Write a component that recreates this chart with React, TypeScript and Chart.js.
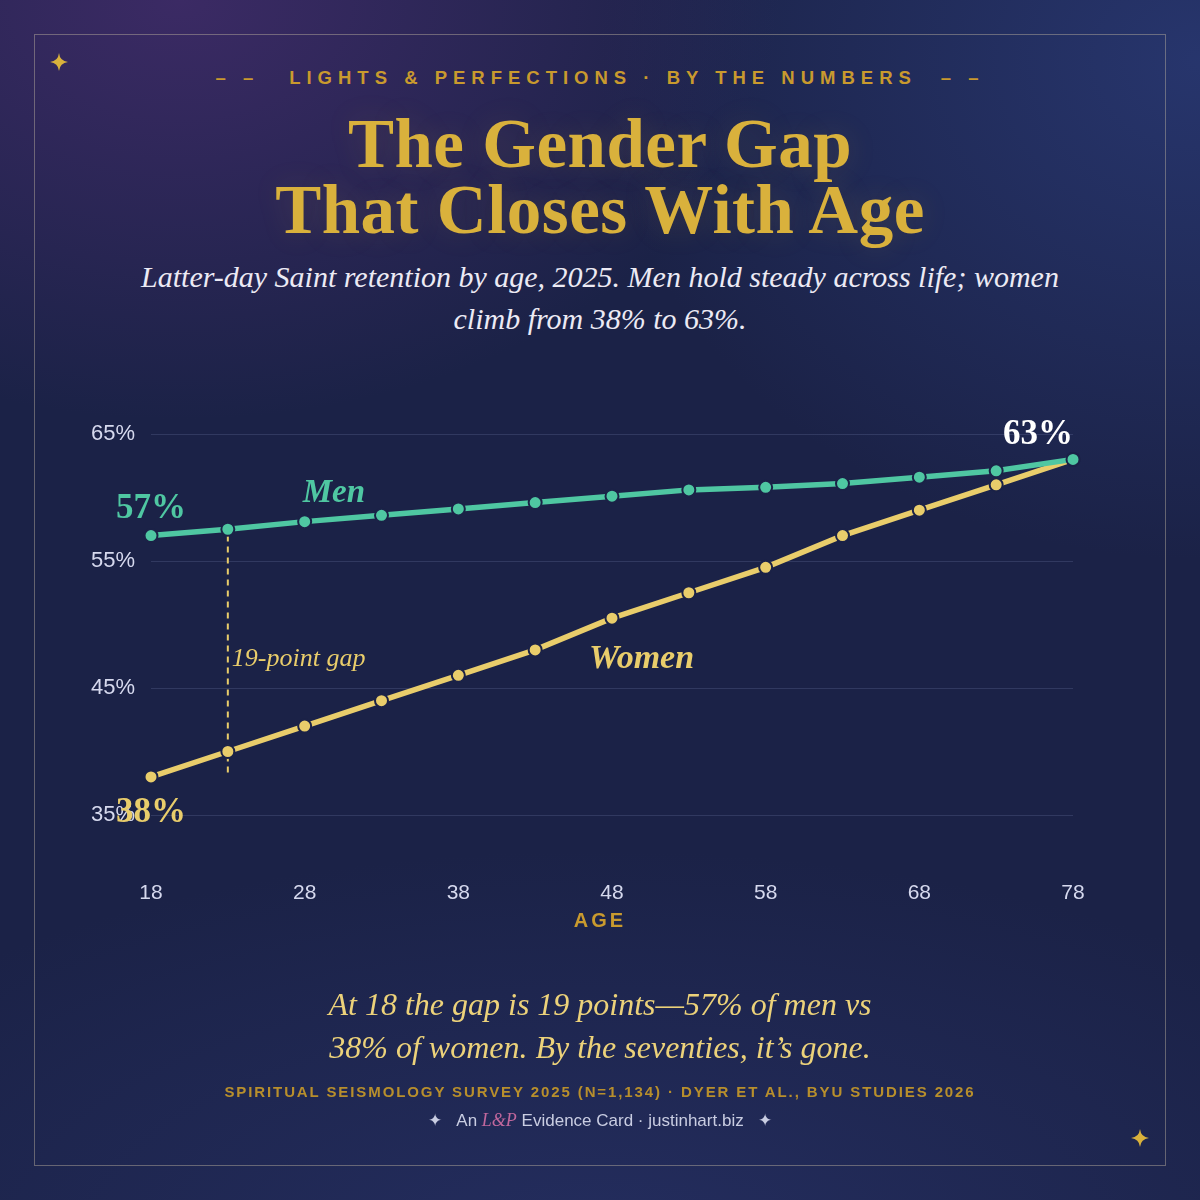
import React, { useEffect, useRef } from "react";
import { Chart, registerables } from "chart.js";

Chart.register(...registerables);

const ages = [18, 23, 28, 33, 38, 43, 48, 53, 58, 63, 68, 73, 78];
const men = [57, 57.5, 58.1, 58.6, 59.1, 59.6, 60.1, 60.6, 60.8, 61.1, 61.6, 62.1, 63];
const women = [38, 40, 42, 44, 46, 48, 50.5, 52.5, 54.5, 57, 59, 61, 63];
const yTicks = [35, 45, 55, 65];
const xTicks = [18, 28, 38, 48, 58, 68, 78];

const TEAL = "#4fc7a2";
const GOLD = "#e9cd6b";
const BG = "#1b2247";
const SERIF = '"Liberation Serif", "DejaVu Serif", serif';
const SANS = '"Liberation Sans", Arial, sans-serif';

const annotPlugin = {
  id: "annot",
  beforeDatasetsDraw(chart: any) {
    const { ctx, scales } = chart;
    const x = scales.x, y = scales.y;
    ctx.save();
    ctx.strokeStyle = GOLD;
    ctx.lineWidth = 2;
    ctx.setLineDash([6, 5]);
    const gx = x.getPixelForValue(ages[1]);
    ctx.beginPath();
    ctx.moveTo(gx, y.getPixelForValue(men[0]));
    ctx.lineTo(gx, y.getPixelForValue(women[0]));
    ctx.stroke();
    ctx.restore();
  },
  afterDatasetsDraw(chart: any) {
    const { ctx, scales } = chart;
    const x = scales.x, y = scales.y;
    ctx.save();
    ctx.textBaseline = "alphabetic";
    // 57%
    ctx.fillStyle = TEAL;
    ctx.font = `bold 35px ${SERIF}`;
    ctx.textAlign = "center";
    ctx.fillText(`${men[0]}%`, x.getPixelForValue(ages[0]), y.getPixelForValue(men[0]) - 18);
    // Men
    ctx.font = `italic bold 33px ${SERIF}`;
    ctx.textAlign = "left";
    ctx.fillText("Men", x.getPixelForValue(ages[2]) - 2, y.getPixelForValue(men[2]) - 20);
    // 38%
    ctx.fillStyle = GOLD;
    ctx.font = `bold 35px ${SERIF}`;
    ctx.textAlign = "center";
    ctx.fillText(`${women[0]}%`, x.getPixelForValue(ages[0]), y.getPixelForValue(women[0]) + 45);
    // Women
    ctx.font = `italic bold 34px ${SERIF}`;
    ctx.textAlign = "left";
    ctx.fillText("Women", x.getPixelForValue(46.5), y.getPixelForValue(45) - 20);
    // 19-point gap
    ctx.font = `italic 26px ${SERIF}`;
    ctx.fillText(`${men[0] - women[0]}-point gap`, x.getPixelForValue(ages[1]) + 4, y.getPixelForValue(45) - 22);
    // 63%
    ctx.fillStyle = "#ffffff";
    ctx.font = `bold 35px ${SERIF}`;
    ctx.textAlign = "right";
    ctx.fillText(`${men[men.length - 1]}%`, x.getPixelForValue(ages[ages.length - 1]), y.getPixelForValue(men[men.length - 1]) - 15);
    ctx.restore();
  },
};

function Star({ left, top, size }: { left: number; top: number; size: number }) {
  return (
    <svg
      width={size}
      height={size}
      viewBox="0 0 20 20"
      style={{ position: "absolute", left: left - size / 2, top: top - size / 2 }}
    >
      <path d="M10 0 Q11 9 20 10 Q11 11 10 20 Q9 11 0 10 Q9 9 10 0 Z" fill="#d9b13c" />
    </svg>
  );
}

export default function App() {
  const ref = useRef<HTMLCanvasElement | null>(null);

  useEffect(() => {
    if (!ref.current) return;
    const chart = new Chart(ref.current, {
      type: "line",
      data: {
        datasets: [
          {
            label: "Men",
            data: ages.map((a, i) => ({ x: a, y: men[i] })),
            borderColor: TEAL,
            backgroundColor: TEAL,
            borderWidth: 5.5,
            pointRadius: 6.5,
            pointBorderWidth: 2,
            pointBorderColor: BG,
            pointBackgroundColor: TEAL,
            tension: 0,
            clip: false,
          },
          {
            label: "Women",
            data: ages.map((a, i) => ({ x: a, y: women[i] })),
            borderColor: GOLD,
            backgroundColor: GOLD,
            borderWidth: 5.5,
            pointRadius: 6.5,
            pointBorderWidth: 2,
            pointBorderColor: BG,
            pointBackgroundColor: GOLD,
            tension: 0,
            clip: false,
          },
        ],
      },
      options: {
        responsive: false,
        animation: false,
        events: [],
        layout: { padding: { left: 60, right: 127, top: 434, bottom: 265 } },
        plugins: { legend: { display: false }, tooltip: { enabled: false } },
        scales: {
          x: {
            type: "linear",
            min: 18,
            max: 78,
            afterBuildTicks: (s: any) => {
              s.ticks = xTicks.map((v) => ({ value: v }));
            },
            afterFit: (s: any) => {
              s.height = 120;
            },
            grid: { display: false },
            border: { display: false },
            ticks: {
              color: "#d6d9ee",
              font: { family: SANS, size: 21 },
              padding: 58,
            },
          },
          y: {
            min: 35,
            max: 65,
            afterBuildTicks: (s: any) => {
              s.ticks = yTicks.map((v) => ({ value: v }));
            },
            afterFit: (s: any) => {
              s.width = 91;
            },
            grid: { color: "rgba(170,180,230,0.16)", lineWidth: 1, drawTicks: false },
            border: { display: false },
            ticks: {
              color: "#d6d9ee",
              font: { family: SANS, size: 22 },
              padding: 16,
              callback: (v: any) => `${v}%`,
            },
          },
        },
      },
      plugins: [annotPlugin],
    } as any);
    return () => chart.destroy();
  }, []);

  return (
    <div
      style={{
        position: "absolute",
        left: 0,
        top: 0,
        width: 1200,
        height: 1200,
        overflow: "hidden",
        background:
          "radial-gradient(ellipse 600px 420px at 180px 0px, rgba(70,45,110,0.75), rgba(70,45,110,0) 100%), radial-gradient(ellipse 600px 500px at 1200px 60px, rgba(42,58,118,0.8), rgba(42,58,118,0) 100%), radial-gradient(ellipse 900px 400px at 600px 1250px, rgba(38,48,100,0.8), rgba(38,48,100,0) 100%), #1b2247",
        fontFamily: SANS,
      }}
    >
      <div
        style={{
          position: "absolute",
          left: 34,
          top: 34,
          width: 1130,
          height: 1130,
          border: "1px solid rgba(190,180,160,0.45)",
        }}
      />
      <Star left={59} top={62} size={18} />
      <Star left={1140} top={1138} size={18} />

      <div
        style={{
          position: "absolute",
          top: 65,
          left: 0,
          width: 1200,
          textAlign: "center",
          color: "#c99a2e",
          fontFamily: SANS,
          fontWeight: 700,
          fontSize: 18.5,
          letterSpacing: 6,
          lineHeight: "26px",
          whiteSpace: "nowrap",
        }}
      >
        <span style={{ letterSpacing: 6 }}>– –</span>
        <span style={{ marginLeft: 30, marginRight: 24 }}>LIGHTS &amp; PERFECTIONS · BY THE NUMBERS</span>
        <span style={{ letterSpacing: 6 }}>– –</span>
      </div>

      <div
        style={{
          position: "absolute",
          top: 111,
          left: 0,
          width: 1200,
          textAlign: "center",
          color: "#d9b13c",
          fontFamily: SERIF,
          fontWeight: 700,
          fontSize: 69,
          lineHeight: "66px",
          letterSpacing: 0.5,
          textShadow: "0 0 30px rgba(217,177,60,0.15)",
        }}
      >
        The Gender Gap
        <br />
        That Closes With Age
      </div>

      <div
        style={{
          position: "absolute",
          top: 256,
          left: 0,
          width: 1200,
          textAlign: "center",
          color: "#eceaf4",
          fontFamily: SERIF,
          fontStyle: "italic",
          fontSize: 30,
          lineHeight: "42px",
        }}
      >
        Latter-day Saint retention by age, 2025. Men hold steady across life; women
        <br />
        climb from 38% to 63%.
      </div>

      <canvas
        ref={ref}
        width={1200}
        height={1200}
        style={{ position: "absolute", left: 0, top: 0, width: 1200, height: 1200 }}
      />

      <div
        style={{
          position: "absolute",
          top: 907,
          left: 0,
          width: 1200,
          textAlign: "center",
          color: "#c99a2e",
          fontFamily: SANS,
          fontWeight: 700,
          fontSize: 20,
          letterSpacing: 3,
          lineHeight: "26px",
        }}
      >
        AGE
      </div>

      <div
        style={{
          position: "absolute",
          top: 983,
          left: 0,
          width: 1200,
          textAlign: "center",
          color: "#ecd27a",
          fontFamily: SERIF,
          fontStyle: "italic",
          fontSize: 32,
          lineHeight: "43px",
        }}
      >
        At 18 the gap is 19 points—57% of men vs
        <br />
        38% of women. By the seventies, it’s gone.
      </div>

      <div
        style={{
          position: "absolute",
          top: 1082,
          left: 0,
          width: 1200,
          textAlign: "center",
          color: "#b88f2c",
          fontFamily: SANS,
          fontWeight: 700,
          fontSize: 15,
          letterSpacing: 1.9,
          lineHeight: "20px",
          whiteSpace: "nowrap",
        }}
      >
        SPIRITUAL SEISMOLOGY SURVEY 2025 (N=1,134) · DYER ET AL., BYU STUDIES 2026
      </div>

      <div
        style={{
          position: "absolute",
          top: 1109,
          left: 0,
          width: 1200,
          textAlign: "center",
          color: "#c9cde2",
          fontFamily: SANS,
          fontSize: 17,
          lineHeight: "22px",
        }}
      >
        <span style={{ marginRight: 14 }}>✦</span>
        An{" "}
        <span style={{ fontFamily: SERIF, fontStyle: "italic", color: "#c0679c", fontSize: 18 }}>L&amp;P</span>{" "}
        Evidence Card · justinhart.biz
        <span style={{ marginLeft: 14 }}>✦</span>
      </div>
    </div>
  );
}
